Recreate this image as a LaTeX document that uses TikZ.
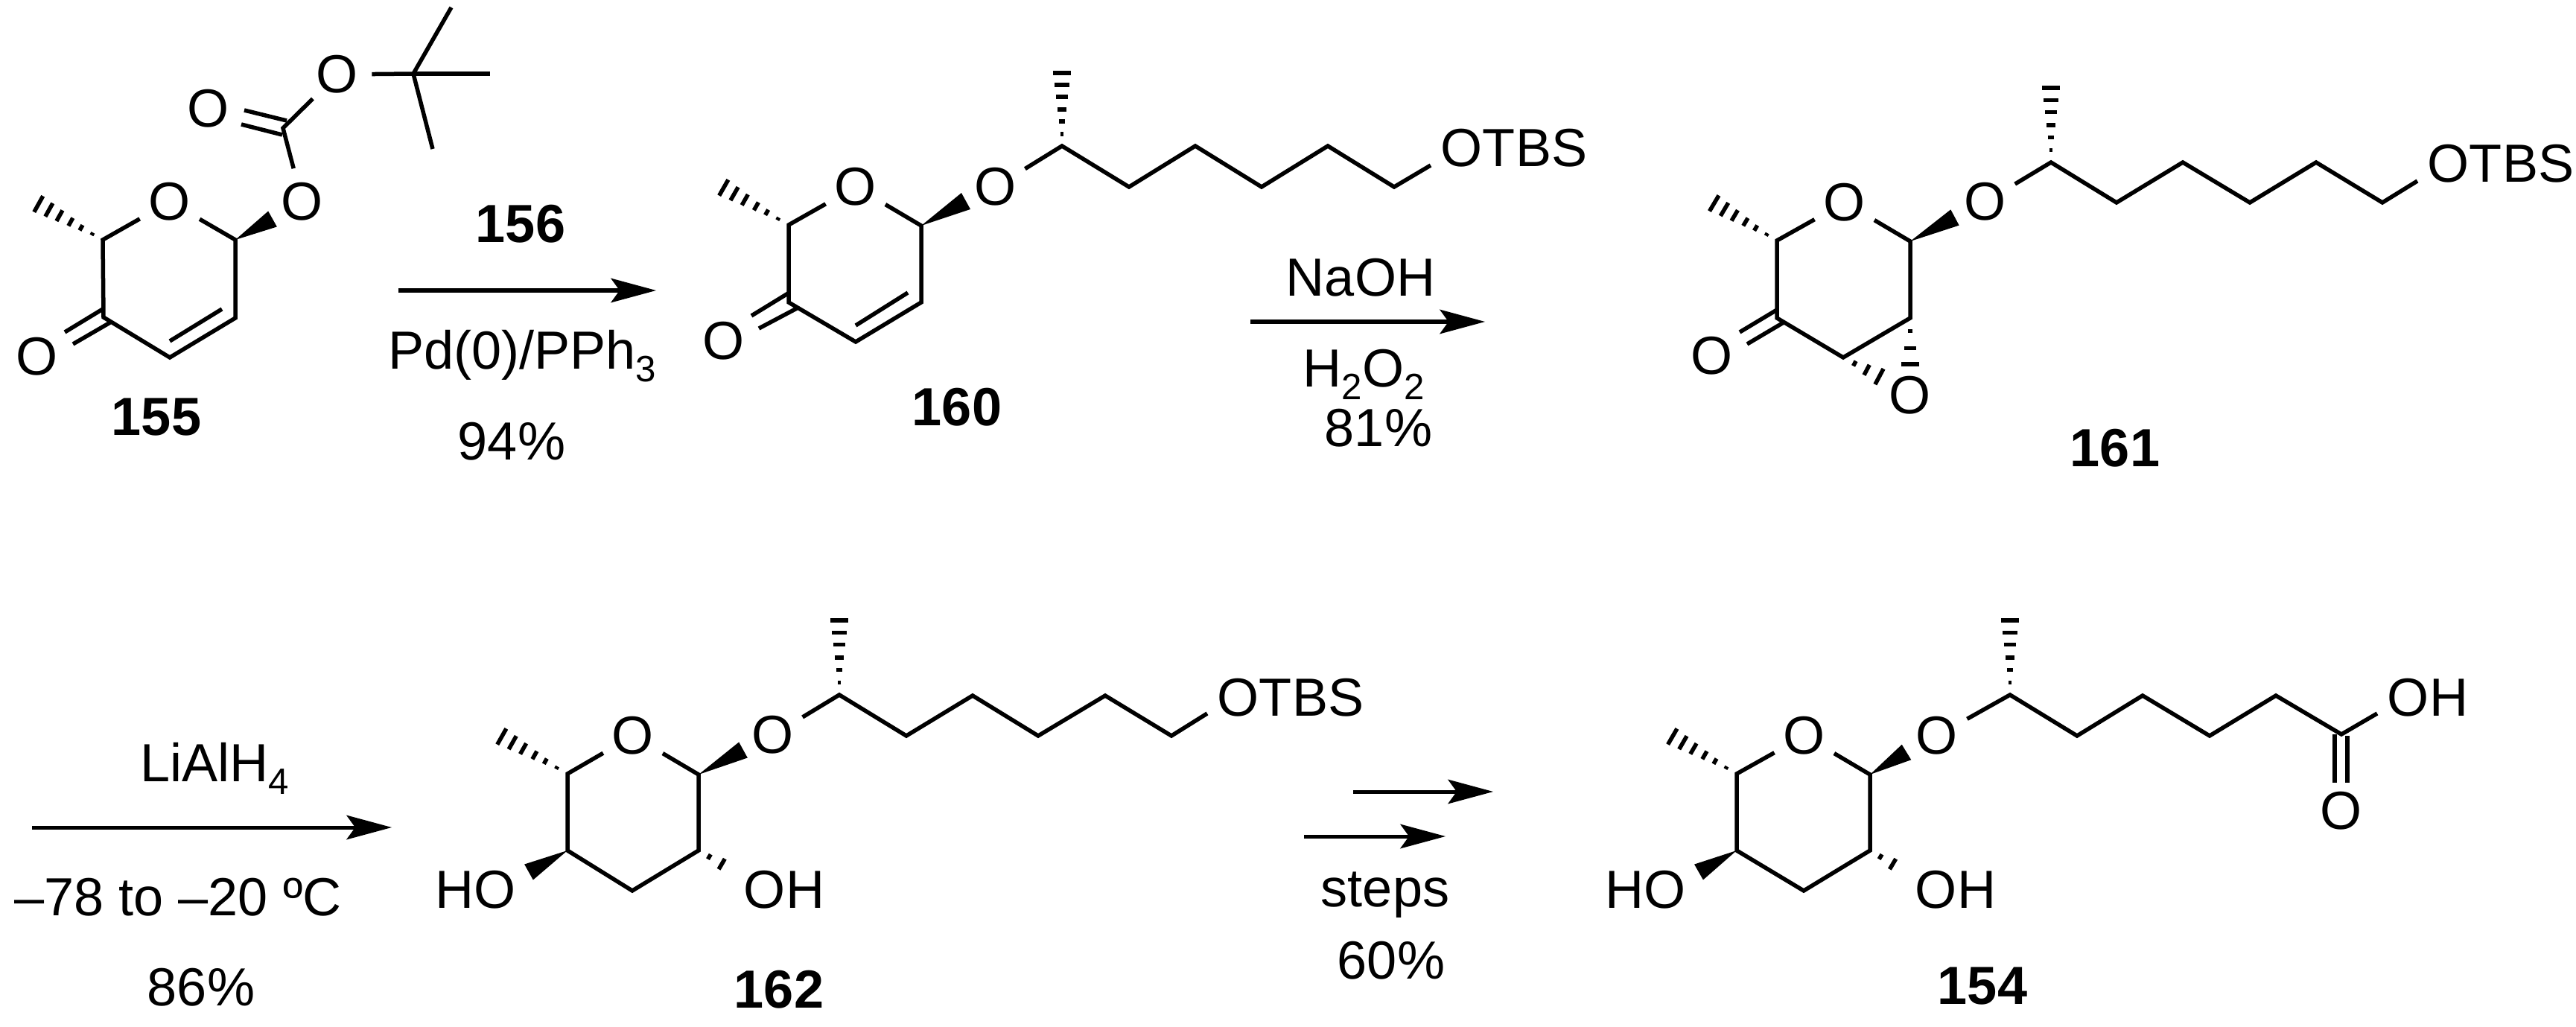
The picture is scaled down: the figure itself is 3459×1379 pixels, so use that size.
\documentclass[tikz,border=0pt]{standalone}
\usepackage{fontspec}
\setmainfont{Liberation Sans}
\usetikzlibrary{calc,arrows.meta}
\newcommand{\sbs}[1]{\raisebox{-0.17cm}{\fontsize{14}{14}\selectfont #1}}
\newcommand{\hashw}[4]{%
  \foreach \t in {#4}{%
    \pgfmathsetlengthmacro{\hl}{\t*#3}%
    \coordinate (hc) at ($(#1)!\t!(#2)$);
    \draw[hashstripe] ($(hc)!\hl!90:(#2)$) -- ($(hc)!\hl!-90:(#2)$);
  }}
\newcommand{\wedgeb}[3]{\fill[black] (#1) -- ($(#2)!#3!90:(#1)$) -- ($(#2)!#3!-90:(#1)$) -- cycle;}
\tikzset{
  bond/.style={line width=0.055cm,black},
  hashstripe/.style={line width=0.055cm,black},
  rxn/.style={line width=0.05cm,black,-{Stealth[length=0.61cm,width=0.33cm,inset=0.12cm,line width=0pt]}},
  atom/.style={circle,inner sep=0.06cm,outer sep=0pt,font=\fontsize{20.5}{24}\selectfont},
  lab/.style={anchor=base,inner sep=0pt,outer sep=0pt,font=\fontsize{20.5}{24}\selectfont},
  num/.style={lab,font=\fontsize{20.5}{24}\selectfont\bfseries},
}
\begin{document}
\begin{tikzpicture}[x=0.01cm,y=-0.01cm]
\useasboundingbox (0,0) rectangle (3459,1379);
% ---------- coordinates
\foreach \n/\x/\y in {
 a1/138/322,a3/316/322,a4/316/427,a5/228/480,a6/139/426,
 a5i/228/458,a4i/298/415,
 ad1a/87/446,ad1b/138/415,ad2a/98/462,ad2b/148/433,
 ame/50/273,awe/366/294,
 ac/380/172,acd1a/324/167,acd1b/379/181,acd2a/328/148,acd2b/385/162,
 at/555/99,at1/606/10,at2/658/99,at3/581/200,
 b1/1059/302,b3/1237/303,b4/1237/406,b5/1149/459,b6/1059/406,
 b5i/1149/437,b4i/1219/393,
 bd1a/1009/424,bd1b/1058/394,bd2a/1019/441,bd2b/1070/414,
 bme/970/251,bwe/1297/270,
 b7/1426/196,b8/1516/251,b9/1605/196,b10/1694/251,b11/1783/196,b12/1872/251,b13/1921/222,bh/1426/96,
 c1/2386/323,c3/2565/324,c4/2565/427,c5/2475/480,c6/2386/427,
 cd1a/2336/446,cd1b/2386/416,cd2a/2346/462,cd2b/2395/433,
 cme/2300/272,cwe/2625/292,ce1/2565/491,ce2/2526/507,
 c7/2754/218,c8/2842/272,c9/2931/218,c10/3021/272,c11/3110/218,c12/3199/272,c13/3246/243,ch/2754/116,
 d1/762/1039,d3/938/1040,d4/938/1142,d5/849/1196,d6/762/1142,
 dme/672/988,dwe/998/1007,dwo/710/1171,dho/986/1170,
 d7/1127/933,d8/1217/988,d9/1306/934,d10/1394/988,d11/1484/934,d12/1573/988,d13/1621/958,dh/1127/831,
 e1/2332/1039,e3/2511/1040,e4/2511/1142,e5/2422/1196,e6/2332/1142,
 eme/2244/988,ewe/2560/1010,ewo/2281/1171,eho/2558/1170,
 e7/2699/933,e8/2789/988,e9/2877/934,e10/2967/988,e11/3056/934,e12/3144/986,e13/3192/958,eh/2699/831,
 ed1a/3135/986,ed1b/3135/1051,ed2a/3152/988,ed2b/3152/1051,
 r1a/535/390,r1b/881/390,r2a/1679/432,r2b/1994/432,
 r3a/43/1111,r3b/526/1111,r4a/1817/1063,r4b/2005/1063,r5a/1751/1123,r5b/1941/1123}
 {\coordinate (\n) at (\x,\y);}
% ---------- atom labels
\node[atom] (ao1) at (228,271) {O};
\node[atom] (ao2) at (50,479) {O};
\node[atom] (ao3) at (406,271) {O};
\node[atom] (ao4) at (280,146) {O};
\node[atom] (ao5) at (453,100) {O};
\node[atom] (bo1) at (1149,251) {O};
\node[atom] (bo2) at (972,458) {O};
\node[atom] (bo3) at (1337,251) {O};
\node[atom] (co1) at (2477,272) {O};
\node[atom] (co2) at (2299,478) {O};
\node[atom] (co3) at (2666,271) {O};
\node[atom] (co4) at (2565,531) {O};
\node[atom] (do1) at (850,988) {O};
\node[atom] (do3) at (1038,987) {O};
\node[atom] (eo1) at (2423,988) {O};
\node[atom] (eo3) at (2601,988) {O};
\node[atom] (eo4) at (3144,1089) {O};
\node[lab] (botbs) at (2033,224) {OTBS};
\node[lab] (cotbs) at (3358,245) {OTBS};
\node[lab] (dotbs) at (1733,961) {OTBS};
\node[lab] (dho1) at (639,1219) {HO};
\node[lab] (doh1) at (1053,1219) {OH};
\node[lab] (eho1) at (2210,1219) {HO};
\node[lab] (eoh1) at (2626,1219) {OH};
\node[lab] (eoh2) at (3260,961) {OH};
% ---------- compound numbers
\node[num] (n155) at (210,584) {155};
\node[num] (n156) at (699,325) {156};
\node[num] (n160) at (1285,571) {160};
\node[num] (n161) at (2840,626) {161};
\node[num] (n162) at (1046,1353) {162};
\node[num] (n154) at (2662,1348) {154};
% ---------- conditions
\node[lab] (t1) at (701,495) {Pd(0)/PPh\sbs{3}};
\node[lab] (t2) at (687,617) {94\%};
\node[lab] (t3) at (1827,398) {NaOH};
\node[lab] (t4) at (1831,519) {H\sbs{2}O\sbs{2}};
\node[lab] (t5) at (1851,599) {81\%};
\node[lab] (t6) at (288,1049) {LiAlH\sbs{4}};
\node[lab] (t7) at (239,1229) {–78 to –20 ºC};
\node[lab] (t8) at (270,1350) {86\%};
\node[lab] (t9) at (1860,1217) {steps};
\node[lab] (t10) at (1868,1314) {60\%};
% ---------- 155
\draw[bond] (ao1) -- (a1) -- (a6) -- (a5) -- (a4) -- (a3) -- (ao1);
\draw[bond] (a5i) -- (a4i);
\draw[bond] (ad1a) -- (ad1b);
\draw[bond] (ad2a) -- (ad2b);
\hashw{a1}{ame}{0.125cm}{0.16,0.33,0.49,0.66,0.82,0.98}
\wedgeb{a3}{awe}{0.12cm}
\draw[bond] (ao3) -- (ac) -- (ao5);
\draw[bond] (acd1a) -- (acd1b);
\draw[bond] (acd2a) -- (acd2b);
\draw[bond] (ao5) -- (at);
\draw[bond] (at1) -- (at) -- (at3);
\draw[bond] (at) -- (at2);
% ---------- 160
\draw[bond] (bo1) -- (b1) -- (b6) -- (b5) -- (b4) -- (b3) -- (bo1);
\draw[bond] (b5i) -- (b4i);
\draw[bond] (bd1a) -- (bd1b);
\draw[bond] (bd2a) -- (bd2b);
\hashw{b1}{bme}{0.125cm}{0.16,0.33,0.49,0.66,0.82,0.98}
\wedgeb{b3}{bwe}{0.125cm}
\draw[bond] (bo3) -- (b7) -- (b8) -- (b9) -- (b10) -- (b11) -- (b12) -- (b13);
\hashw{b7}{bh}{0.125cm}{0.16,0.33,0.49,0.66,0.82,0.98}
% ---------- 161
\draw[bond] (co1) -- (c1) -- (c6) -- (c5) -- (c4) -- (c3) -- (co1);
\draw[bond] (cd1a) -- (cd1b);
\draw[bond] (cd2a) -- (cd2b);
\hashw{c1}{cme}{0.125cm}{0.16,0.33,0.49,0.66,0.82,0.98}
\wedgeb{c3}{cwe}{0.12cm}
\draw[bond] (co3) -- (c7) -- (c8) -- (c9) -- (c10) -- (c11) -- (c12) -- (c13);
\hashw{c7}{ch}{0.125cm}{0.16,0.33,0.49,0.66,0.82,0.98}
\hashw{c4}{ce1}{0.125cm}{0.27,0.63,0.97}
\hashw{c5}{ce2}{0.125cm}{0.3,0.62,0.95}
% ---------- 162
\draw[bond] (do1) -- (d1) -- (d6) -- (d5) -- (d4) -- (d3) -- (do1);
\hashw{d1}{dme}{0.125cm}{0.16,0.33,0.49,0.66,0.82,0.98}
\wedgeb{d3}{dwe}{0.12cm}
\wedgeb{d6}{dwo}{0.12cm}
\hashw{d4}{dho}{0.125cm}{0.3,0.65,1}
\draw[bond] (do3) -- (d7) -- (d8) -- (d9) -- (d10) -- (d11) -- (d12) -- (d13);
\hashw{d7}{dh}{0.125cm}{0.16,0.33,0.49,0.66,0.82,0.98}
% ---------- 154
\draw[bond] (eo1) -- (e1) -- (e6) -- (e5) -- (e4) -- (e3) -- (eo1);
\hashw{e1}{eme}{0.125cm}{0.16,0.33,0.49,0.66,0.82,0.98}
\wedgeb{e3}{ewe}{0.12cm}
\wedgeb{e6}{ewo}{0.12cm}
\hashw{e4}{eho}{0.125cm}{0.3,0.65,1}
\draw[bond] (eo3) -- (e7) -- (e8) -- (e9) -- (e10) -- (e11) -- (e12) -- (e13);
\hashw{e7}{eh}{0.125cm}{0.16,0.33,0.49,0.66,0.82,0.98}
\draw[bond] (ed1a) -- (ed1b);
\draw[bond] (ed2a) -- (ed2b);
% ---------- reaction arrows
\draw[rxn] (r1a) -- (r1b);
\draw[rxn] (r2a) -- (r2b);
\draw[rxn] (r3a) -- (r3b);
\draw[rxn] (r4a) -- (r4b);
\draw[rxn] (r5a) -- (r5b);
\end{tikzpicture}
\end{document}
